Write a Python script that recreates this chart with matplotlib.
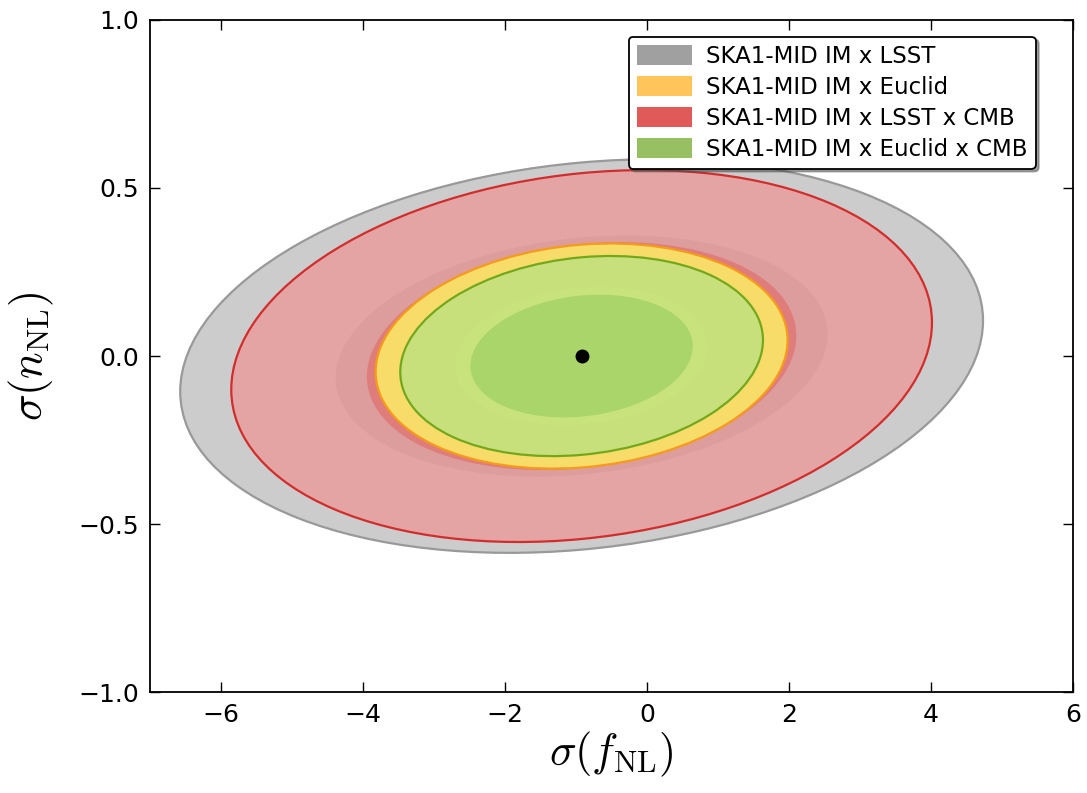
import numpy as np
import matplotlib
matplotlib.use("Agg")
import matplotlib.pyplot as plt
from matplotlib.patches import Ellipse, Patch
from matplotlib.colors import to_rgba

plt.rcParams['mathtext.fontset'] = 'cm'
plt.rcParams['font.family'] = 'DejaVu Sans'

# Forecast constraints (fiducial at the dot)
labels = ['SKA1-MID IM x LSST', 'SKA1-MID IM x Euclid',
          'SKA1-MID IM x LSST x CMB', 'SKA1-MID IM x Euclid x CMB']
fid_fnl, fid_nnl = -0.92, 0.0
sigma_fnl = [2.28, 1.17, 1.99, 1.03]
sigma_nnl = [0.236, 0.135, 0.223, 0.120]
corr = [0.18, 0.14, 0.18, 0.16]

# 1 and 2 sigma scalings for a 2-parameter ellipse
alpha_1s, alpha_2s = 1.52, 2.48

# (2sigma fill, alpha), (1sigma fill, alpha), edge, legend swatch
styles = [
    (('#cccccc', 1.0), ('#a8a8a8', 1.0), '#999999', '#a0a0a0'),
    (('#f7dc6a', 1.0), ('#fae46c', 1.0), '#f59b1c', '#ffc55a'),
    (('#ec9b9b', 0.8), ('#e07474', 0.8), '#d22d2d', '#e05a5a'),
    (('#b4e284', 0.7), ('#a9d56a', 1.0), '#74a81c', '#96c062'),
]
# draw widest first
order = [0, 2, 1, 3]

fig = plt.figure(figsize=(10.87, 7.93), dpi=100)
ax = fig.add_axes([0.138, 0.127, 0.849, 0.848])


def ellipse_params(sx, sy, r):
    cov = np.array([[sx**2, r*sx*sy], [r*sx*sy, sy**2]])
    vals, vecs = np.linalg.eigh(cov)
    ang = np.degrees(np.arctan2(vecs[1, -1], vecs[0, -1]))
    return np.sqrt(vals[-1]), np.sqrt(vals[0]), ang


for i in order:
    a, b, ang = ellipse_params(sigma_fnl[i], sigma_nnl[i], corr[i])
    (c2, a2), (c1, a1), ec, _ = styles[i]
    ax.add_patch(Ellipse((fid_fnl, fid_nnl), 2*alpha_2s*a, 2*alpha_2s*b, angle=ang,
                         fc=to_rgba(c2, a2), ec=ec, lw=1.6))
    ax.add_patch(Ellipse((fid_fnl, fid_nnl), 2*alpha_1s*a, 2*alpha_1s*b, angle=ang,
                         fc=to_rgba(c1, a1), ec='none', lw=0))

ax.plot(fid_fnl, fid_nnl, 'ko', ms=9)

ax.set_xlim(-7, 6)
ax.set_ylim(-1, 1)
ax.set_xticks([-6, -4, -2, 0, 2, 4, 6])
ax.set_yticks([-1.0, -0.5, 0.0, 0.5, 1.0])
ax.tick_params(direction='in', length=7, width=1, labelsize=18, pad=8,
               top=True, right=True)
for s in ax.spines.values():
    s.set_linewidth(1.3)

ax.set_xlabel(r'$\sigma(f_{\rm NL})$', fontsize=32, labelpad=2)
ax.set_ylabel(r'$\sigma(n_{\rm NL})$', fontsize=32, labelpad=16)

handles = [Patch(fc=styles[i][3], ec='none') for i in range(4)]
leg = ax.legend(handles, labels, loc='upper right', bbox_to_anchor=(0.96, 0.975),
                borderaxespad=0, fontsize=16.5, handlelength=2.4, handleheight=0.95,
                labelspacing=0.35, handletextpad=0.65, borderpad=0.35,
                frameon=True, fancybox=True, shadow=True, framealpha=1)
leg.get_frame().set_edgecolor('black')
leg.get_frame().set_linewidth(1.3)

plt.savefig('out.png', dpi=100)
